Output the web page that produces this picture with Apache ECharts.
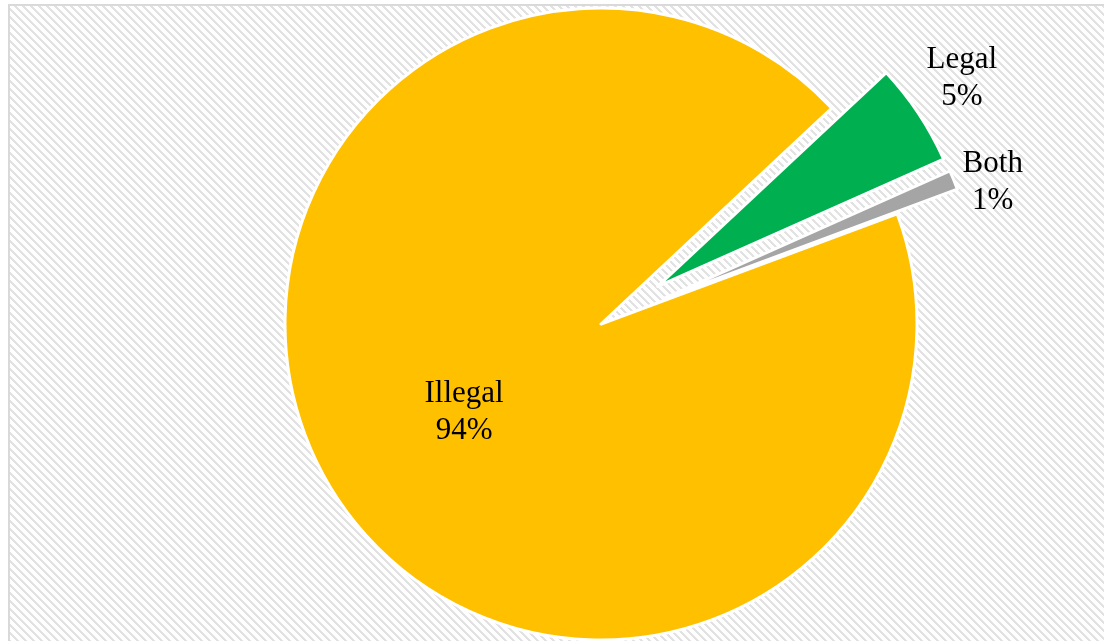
<!DOCTYPE html>
<html>
<head>
<meta charset="utf-8">
<script src="https://cdn.jsdelivr.net/npm/echarts@6/dist/echarts.min.js"></script>
<style>
  html, body { margin: 0; padding: 0; background: #fff; }
  #chart { width: 1104px; height: 641px; }
</style>
</head>
<body>
<div id="chart"></div>
<script>
// data
const categories = ['Illegal', 'Legal', 'Both'];
const shares = [93.7, 5.3, 1.0];
const colors = ['#ffc000', '#00b050', '#a5a5a5'];

// hatched background tile (wide downward diagonal)
const tile = document.createElement('canvas');
tile.width = 8;
tile.height = 8;
const tctx = tile.getContext('2d');
tctx.fillStyle = '#ffffff';
tctx.fillRect(0, 0, 8, 8);
tctx.fillStyle = '#e2e2e2';
for (let x = 0; x < 8; x++) {
  for (let y = 0; y < 8; y++) {
    if ((x - y + 16) % 8 < 3) tctx.fillRect(x, y, 1, 1);
  }
}

const labelFont = {
  fontFamily: 'Liberation Serif',
  fontSize: 31,
  lineHeight: 37,
  color: '#000'
};
const hidden = { color: 'transparent', borderWidth: 0 };

function pctText(p) {
  return p.name + '\n' + Math.round(p.percent) + '%';
}

// main (big) slice
const bigData = categories.map((name, i) => ({
  name: name,
  value: shares[i],
  itemStyle: i === 0 ? { color: colors[i] } : hidden,
  label: { show: i === 0 }
}));

// exploded small slices
const lineLen = [0, 64, 0];
const smallData = categories.map((name, i) => ({
  name: name,
  value: shares[i],
  selected: i !== 0,
  itemStyle: i === 0 ? hidden : { color: colors[i] },
  label: { show: i !== 0 },
  labelLine: { show: false, length: lineLen[i], length2: 0 }
}));
const labelShift = [[0, 0], [-15, 0], [34, 2]];

const chart = echarts.init(document.getElementById('chart'));
chart.setOption({
  animation: false,
  backgroundColor: '#fff',
  graphic: [{
    type: 'rect',
    z: -10,
    silent: true,
    shape: { x: 9, y: 5, width: 1110, height: 660 },
    style: {
      fill: { image: tile, repeat: 'repeat' },
      stroke: '#d9d9d9',
      lineWidth: 2
    }
  }],
  series: [
    {
      type: 'pie',
      silent: true,
      center: [601, 324],
      radius: 316,
      startAngle: 20.4,
      clockwise: true,
      avoidLabelOverlap: false,
      itemStyle: { borderColor: '#fff', borderWidth: 3 },
      label: Object.assign({ position: 'inside', formatter: pctText }, labelFont),
      labelLine: { show: false },
      labelLayout: function () {
        return { dx: 0, dy: 4 };
      },
      emphasis: { disabled: true },
      data: bigData
    },
    {
      type: 'pie',
      silent: true,
      center: [601, 324],
      radius: 313,
      startAngle: 20.4,
      clockwise: true,
      selectedMode: 'multiple',
      selectedOffset: 68,
      avoidLabelOverlap: false,
      itemStyle: { borderColor: '#fff', borderWidth: 3 },
      label: Object.assign({ position: 'outside', formatter: pctText }, labelFont),
      labelLayout: function (p) {
        const s = labelShift[p.dataIndex];
        return { align: 'center', dx: s[0], dy: s[1] };
      },
      emphasis: { disabled: true },
      data: smallData
    }
  ]
});
</script>
</body>
</html>
